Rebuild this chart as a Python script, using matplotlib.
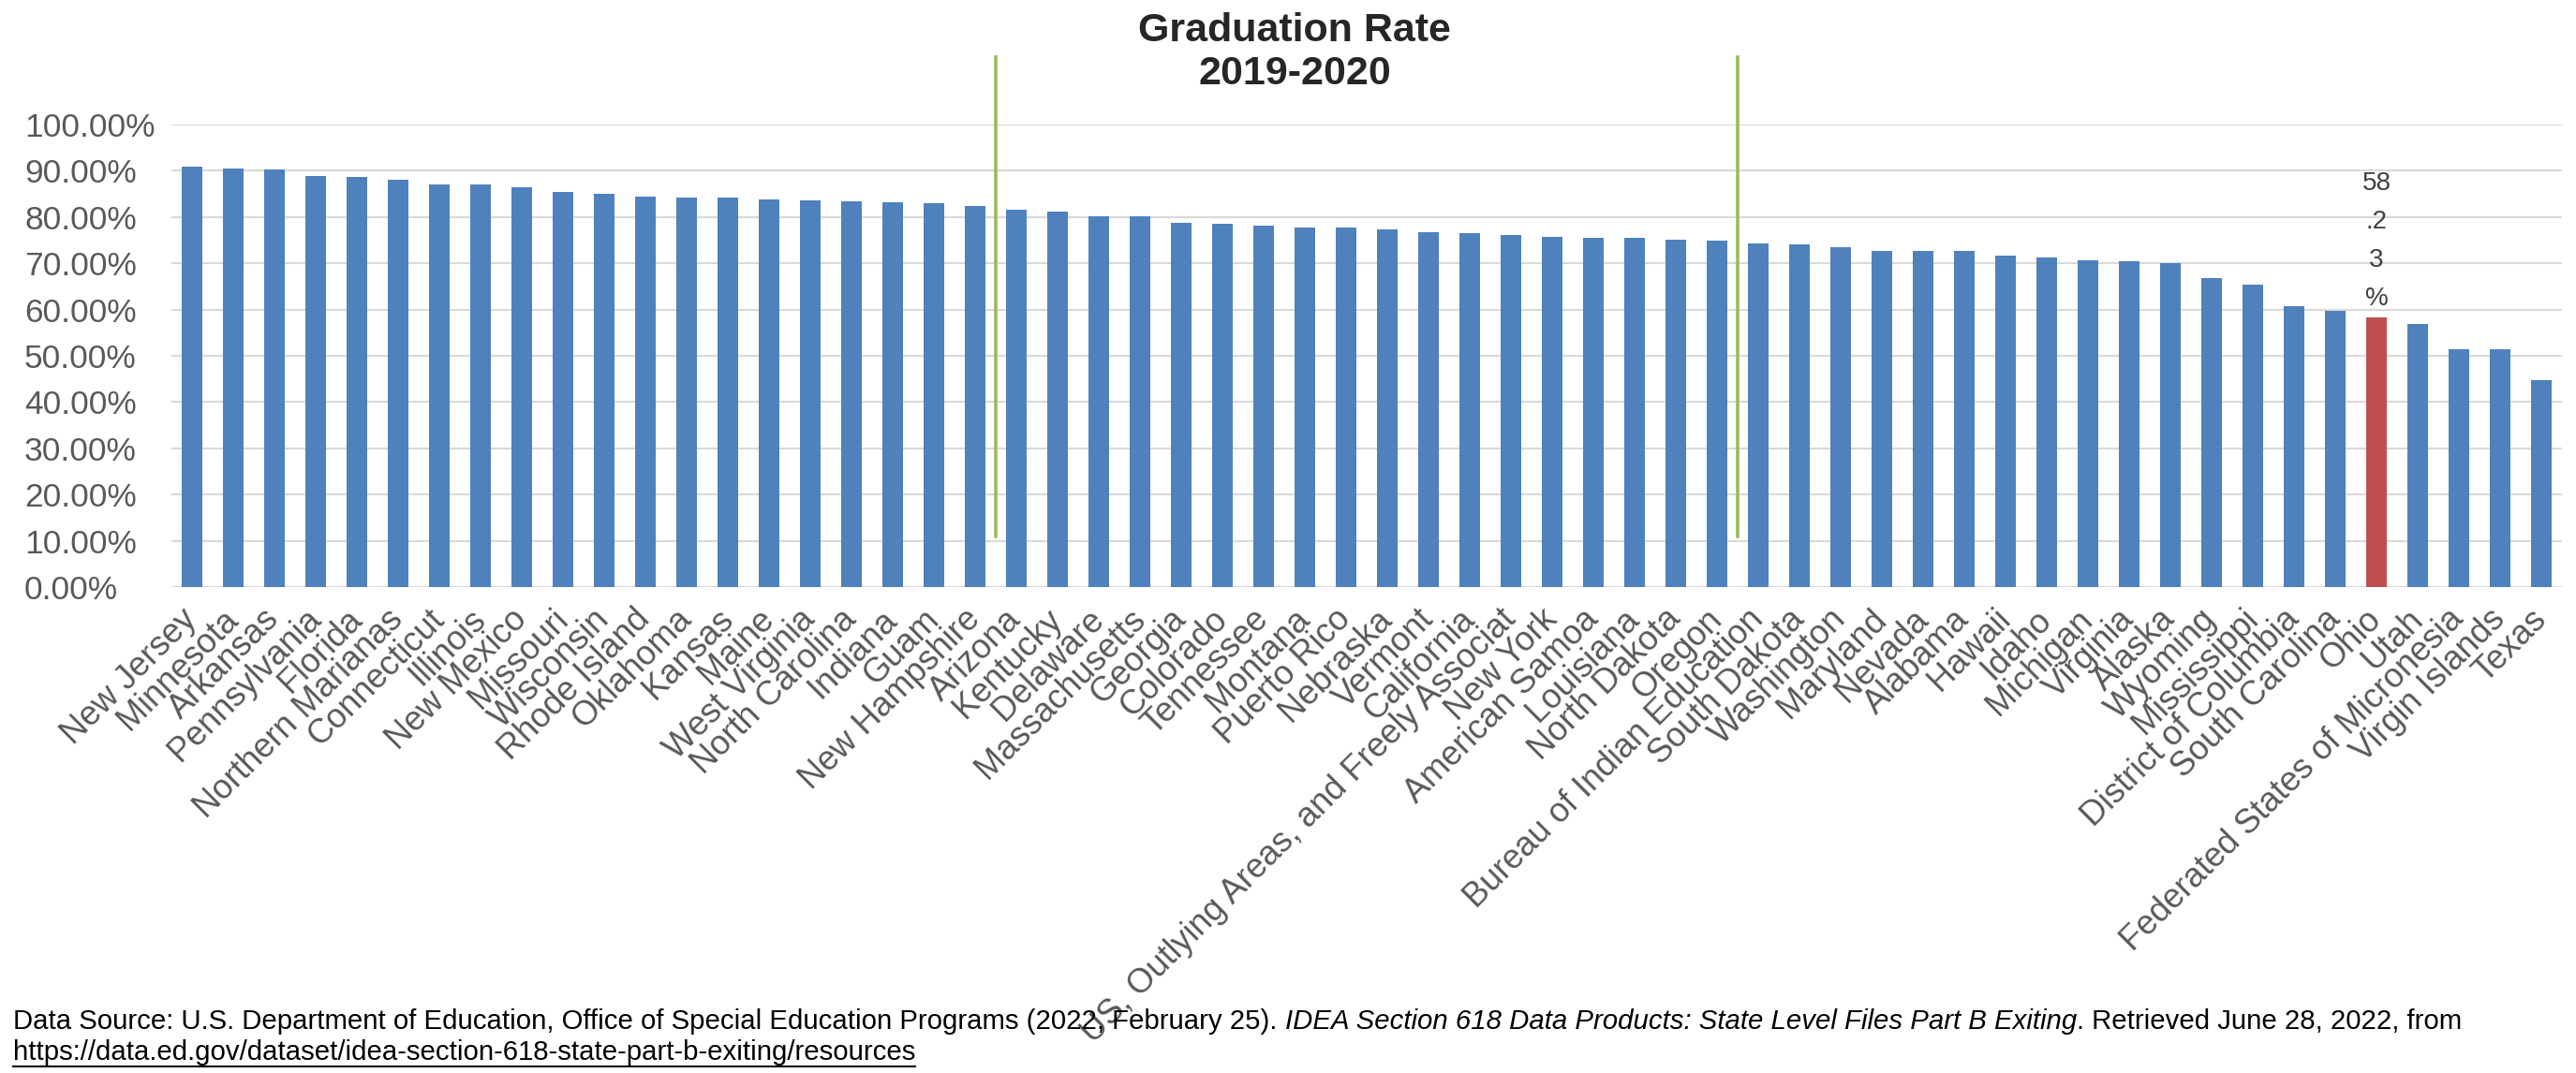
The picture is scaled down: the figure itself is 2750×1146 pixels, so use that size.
import matplotlib
matplotlib.use("Agg")
import matplotlib.pyplot as plt
from matplotlib.lines import Line2D

# ---------------- data ----------------
categories = [
    "New Jersey", "Minnesota", "Arkansas", "Pennsylvania", "Florida",
    "Northern Marianas", "Connecticut", "Illinois", "New Mexico", "Missouri",
    "Wisconsin", "Rhode Island", "Oklahoma", "Kansas", "Maine",
    "West Virginia", "North Carolina", "Indiana", "Guam", "New Hampshire",
    "Arizona", "Kentucky", "Delaware", "Massachusetts", "Georgia",
    "Colorado", "Tennessee", "Montana", "Puerto Rico", "Nebraska",
    "Vermont", "California", "US, Outlying Areas, and Freely Associat", "New York", "American Samoa",
    "Louisiana", "North Dakota", "Oregon", "Bureau of Indian Education", "South Dakota",
    "Washington", "Maryland", "Nevada", "Alabama", "Hawaii",
    "Idaho", "Michigan", "Virginia", "Alaska", "Wyoming",
    "Mississippi", "District of Columbia", "South Carolina", "Ohio", "Utah",
    "Federated States of Micronesia", "Virgin Islands", "Texas",
]
rates = [
    90.8, 90.5, 90.3, 88.9, 88.7,
    88.1, 87.1, 87.0, 86.4, 85.5,
    85.0, 84.4, 84.2, 84.2, 83.9,
    83.6, 83.4, 83.2, 82.9, 82.3,
    81.6, 81.2, 80.2, 80.1, 78.8,
    78.5, 78.2, 77.8, 77.7, 77.4,
    76.8, 76.6, 76.1, 75.7, 75.5,
    75.5, 75.2, 74.8, 74.3, 74.0,
    73.4, 72.7, 72.6, 72.6, 71.7,
    71.2, 70.6, 70.5, 70.1, 66.8,
    65.3, 60.8, 59.8, 58.23, 56.8,
    51.5, 51.4, 44.7,
]
highlight = "Ohio"
highlight_label = "58\n.2\n3\n%"
divider_positions = [19.5, 37.5]
divider_span = [10.9, 114.6]
yticks = [0, 10, 20, 30, 40, 50, 60, 70, 80, 90, 100]
ytick_labels = ["0.00%", "10.00%", "20.00%", "30.00%", "40.00%", "50.00%",
                "60.00%", "70.00%", "80.00%", "90.00%", "100.00%"]
title = "Graduation Rate\n2019-2020"
footer_parts = [
    ("Data Source: U.S. Department of Education, Office of Special Education Programs (2022, February 25).", "normal"),
    ("IDEA Section 618 Data Products: State Level Files Part B Exiting", "italic"),
    (". Retrieved June 28, 2022, from", "normal"),
]
footer_url = "https://data.ed.gov/dataset/idea-section-618-state-part-b-exiting/resources"

# ---------------- style ----------------
plt.rcParams["font.family"] = ["Liberation Sans", "DejaVu Sans"]
W, H, DPI = 2750, 1146, 100
BLUE = "#4F81BD"
RED = "#C0504D"
GREEN = "#9BBB59"
GRID = "#D9D9D9"
LABEL = "#595959"

fig = plt.figure(figsize=(W / DPI, H / DPI), dpi=DPI)
fig.patch.set_facecolor("white")
ax_left, ax_right, ax_top, ax_bottom = 183, 2735, 133, 627
ax = fig.add_axes([ax_left / W, 1 - ax_bottom / H,
                   (ax_right - ax_left) / W, (ax_bottom - ax_top) / H])

xs = list(range(len(categories)))
colors = [RED if c == highlight else BLUE for c in categories]
ax.bar(xs, rates, width=0.48, color=colors, zorder=2)

ax.set_xlim(-0.5, len(categories) - 0.5)
ax.set_ylim(0, 100)
ax.set_yticks(yticks)
ax.set_yticklabels(ytick_labels)
ax.yaxis.grid(True, color=GRID, lw=1.5)
ax.set_axisbelow(True)
for s in ax.spines.values():
    s.set_visible(False)
ax.tick_params(axis="both", length=0)
ax.tick_params(axis="y", pad=(ax_left - 26) * 72 / DPI, labelsize=25.5, labelcolor=LABEL)
for lab in ax.get_yticklabels():
    lab.set_horizontalalignment("left")

ax.set_xticks(xs)
ax.set_xticklabels(categories, rotation=45, ha="right", va="center",
                   rotation_mode="anchor", fontsize=26, color=LABEL)
ax.tick_params(axis="x", pad=21)

# divider lines
for xp in divider_positions:
    ax.plot([xp, xp], divider_span, color=GREEN, lw=2.6, clip_on=False, zorder=4)

# highlighted data label
hi = categories.index(highlight)
ax.annotate(highlight_label, xy=(hi, rates[hi]), xytext=(0, 5),
            textcoords="offset points", ha="center", va="bottom",
            fontsize=20, color="#404040", linespacing=1.75)

# title
fig.text(1382 / W, 1 - 56 / H, title, ha="center", va="center",
         fontsize=31, fontweight="bold", color="#262626", linespacing=1.18)

# footer
fig.canvas.draw()
renderer = fig.canvas.get_renderer()
FS = 21.2
probe1 = fig.text(0, 0, "x x", fontsize=FS)
probe2 = fig.text(0, 0, "xx", fontsize=FS)
space_w = probe1.get_window_extent(renderer).width - probe2.get_window_extent(renderer).width
probe1.remove()
probe2.remove()

cur = 14.0
y_line1 = 1 - 1091 / H
for i, (txt, style) in enumerate(footer_parts):
    t = fig.text(cur / W, y_line1, txt, fontsize=FS, style=style,
                 ha="left", va="center", color="black")
    bb = t.get_window_extent(renderer)
    cur = bb.x1
    if i == 0:
        cur += space_w

t_url = fig.text(14 / W, 1 - 1124 / H, footer_url, fontsize=FS,
                 ha="left", va="center", color="black")
bb = t_url.get_window_extent(renderer)
uy = (bb.y0 - 1) / H
fig.add_artist(Line2D([bb.x0 / W, bb.x1 / W], [uy, uy],
                      transform=fig.transFigure, color="black", lw=1.5))

fig.savefig("out.png", dpi=DPI)
